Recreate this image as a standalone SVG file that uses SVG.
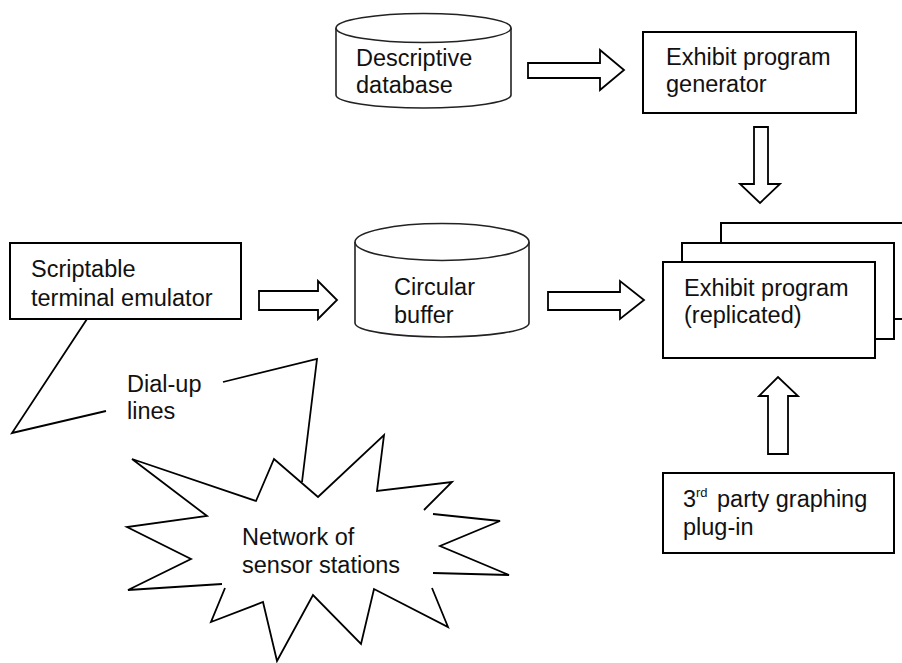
<svg xmlns="http://www.w3.org/2000/svg" width="902" height="663" viewBox="0 0 902 663">
  <style>
    .box { fill: #fff; stroke: #000; stroke-width: 2; }
    .can { fill: #fff; stroke: #222; stroke-width: 1.6; }
    .arrow { fill: #fff; stroke: #000; stroke-width: 1.8; stroke-linejoin: miter; }
    .line { fill: none; stroke: #000; stroke-width: 1.8; stroke-linejoin: miter; }
    .label { font-family: "Liberation Sans", Arial, sans-serif; font-size: 23.5px; fill: #111; }
    .sup { font-size: 13px; }
  </style>

  <rect width="902" height="663" fill="#fff"/>

  <!-- data stores -->
  <g id="descriptive-database">
    <path class="can" d="M336,28 L336,95 A87.5,13 0 0 0 511,95 L511,28"/>
    <ellipse class="can" cx="423.5" cy="28" rx="87.5" ry="14.5"/>
    <text class="label" x="356" y="66">Descriptive</text>
    <text class="label" x="356" y="93">database</text>
  </g>

  <g id="circular-buffer">
    <path class="can" d="M355,242 L355,323 A87,14 0 0 0 529,323 L529,242"/>
    <ellipse class="can" cx="442" cy="242" rx="87" ry="18.5"/>
    <text class="label" x="394" y="295">Circular</text>
    <text class="label" x="394" y="323">buffer</text>
  </g>

  <!-- programs -->
  <g id="exhibit-program-generator">
    <rect class="box" x="643" y="32" width="213" height="81"/>
    <text class="label" x="666" y="65">Exhibit program</text>
    <text class="label" x="666" y="92">generator</text>
  </g>

  <g id="exhibit-program">
    <rect class="box" x="721" y="223" width="212" height="96"/>
    <rect class="box" x="682" y="243" width="212" height="96"/>
    <rect class="box" x="663" y="262" width="212" height="96"/>
    <text class="label" x="684" y="296">Exhibit program</text>
    <text class="label" x="684" y="323">(replicated)</text>
  </g>

  <g id="terminal-emulator">
    <rect class="box" x="10" y="243" width="231" height="76"/>
    <text class="label" x="31" y="277">Scriptable</text>
    <text class="label" x="31" y="306">terminal emulator</text>
  </g>

  <g id="graphing-plugin">
    <rect class="box" x="663" y="473" width="231" height="80"/>
    <text class="label" x="683" y="507">3<tspan class="sup" x="696" y="497">rd</tspan><tspan x="717" y="507">party graphing</tspan></text>
    <text class="label" x="683" y="535">plug-in</text>
  </g>

  <g id="sensor-network">
    <path class="line" d="M433,514 L500,521 L440,546 L509,575 L433,573
             M432,588 L448,627 L374,589 L361,644 L313,595 L277,661 L263,602 L211,622 L225,588
             M222,584 L128,590 L191,559 L127,527 L207,516 L132,459 L256,501 L274,459 L318,497 L384,435 L377,491 L452,482 L424,510"/>
    <text class="label" x="242" y="545">Network of</text>
    <text class="label" x="242" y="573">sensor stations</text>
  </g>

  <g id="dial-up-lines">
    <polyline class="line" points="87,319 12,433 106,411"/>
    <polyline class="line" points="223,382 317,359 302,482"/>
    <text class="label" x="127" y="392">Dial-up</text>
    <text class="label" x="127" y="419">lines</text>
  </g>

  <!-- block arrows between components -->
  <g id="connectors">
    <polygon class="arrow" points="528,63 600,63 600,50 624,70 600,90 600,78 528,78"/>
    <polygon class="arrow" points="754,127 768,127 768,184 780,184 760,203 740,184 754,184"/>
    <polygon class="arrow" points="259,291 318,291 318,281 337,300 318,319 318,310 259,310"/>
    <polygon class="arrow" points="548,292 620,292 620,281 644,300 620,319 620,310 548,310"/>
    <polygon class="arrow" points="768,454 788,454 788,396 798,396 778,377 759,396 768,396"/>
  </g>
</svg>
